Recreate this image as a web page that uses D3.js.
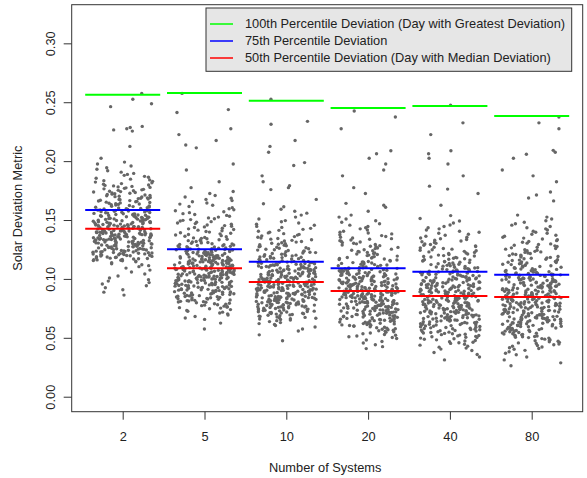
<!DOCTYPE html>
<html>
<head>
<meta charset="utf-8">
<script src="https://cdn.jsdelivr.net/npm/d3@7"></script>
<style>
  body { margin: 0; background: #fff; }
  svg text { font-family: "Liberation Sans", Arial, sans-serif; }
</style>
</head>
<body>
<div id="chart"></div>
<script>
// groups (number of systems)
var categories = ["2", "5", "10", "20", "40", "80"];

// daily deviation values, read off the picture as counts per 0.005 bin
// bin k covers [0.025 + k*0.005, 0.030 + k*0.005)
var binStart = 0.025;
var binWidth = 0.005;
var counts2  = [0,0,0,0,0,0,0,0,0,0,0,0,2,3,4,3,3,6,20,26,28,30,32,30,28,24,20,16,15,14,12,8,6,4,3,1,0,1,0,0,5,0,0,0,2,1,1];
var counts5  = [0,0,0,0,0,0,1,1,4,7,12,18,22,28,30,32,32,32,30,26,18,13,10,9,9,7,6,5,5,3,1,1,0,1,1,0,0,2,1,1,1,0,0,2,0,0,1];
var counts10 = [0,0,0,0,1,1,3,6,14,20,26,30,30,32,32,30,28,24,17,14,12,10,8,6,5,3,3,2,1,0,3,1,1,0,2,0,1,1,1,0,0,2,0,0,0,1,0];
var counts20 = [0,0,0,3,4,8,12,18,22,26,28,30,30,30,28,26,22,15,12,11,10,9,7,5,4,3,1,3,0,1,1,0,1,1,1,1,2,0,0,0,1,0,1,1,0,0,0];
var counts40 = [0,2,3,6,10,14,18,21,24,26,27,28,28,26,24,22,18,15,13,11,9,8,6,5,3,2,0,1,0,1,2,0,1,0,1,1,2,0,0,1,0,1,0,0,1,0,0];
var counts80 = [2,2,4,8,11,15,19,22,24,25,26,27,27,26,24,21,17,15,13,11,9,7,6,5,4,3,0,0,2,2,0,1,1,1,0,1,3,0,0,0,1,1,1,0,0,0,0];
var countsByGroup = [counts2, counts5, counts10, counts20, counts40, counts80];

// percentile deviation per group
var p100 = [0.2564, 0.2578, 0.2513, 0.2451, 0.2468, 0.2383];
var p75  = [0.1585, 0.1251, 0.1146, 0.1090, 0.1061, 0.1036];
var p50  = [0.1426, 0.1090, 0.0974, 0.0897, 0.0855, 0.0846];

var yTicks = [0, 0.05, 0.10, 0.15, 0.20, 0.25, 0.30];

var legendLabels = [
  "100th Percentile Deviation (Day with Greatest Deviation)",
  "75th Percentile Deviation",
  "50th Percentile Deviation (Day with Median Deviation)"
];
var legendColors = ["#00ff00", "#0000ff", "#ff0000"];

var width = 587, height = 478;
var box = { left: 71.7, right: 582.7, top: 4.7, bottom: 411.7 };
var fontSize = 12.8;

var svg = d3.select("#chart").append("svg")
  .attr("width", width).attr("height", height);

var x = d3.scalePoint().domain(categories).range([122.7, 531.7]);
var y = d3.scaleLinear().domain([-0.01273, 0.3328]).range([box.bottom, box.top]);

// deterministic jitter, like R's jitter() for the x position
function hash(a, b, c) {
  var s = Math.sin(a * 12.9898 + b * 78.233 + c * 37.719) * 43758.5453;
  return s - Math.floor(s);
}

var points = [];
countsByGroup.forEach(function (counts, g) {
  counts.forEach(function (n, k) {
    for (var i = 0; i < n; i++) {
      points.push({
        group: categories[g],
        value: binStart + k * binWidth + binWidth * (i + 0.5) / n,
        jit: hash(g + 1, k + 1, i + 1) - 0.5
      });
    }
  });
});

svg.append("g")
  .selectAll("circle")
  .data(points)
  .enter()
  .append("circle")
  .attr("cx", function (d) { return x(d.group) + d.jit * 60; })
  .attr("cy", function (d) { return y(d.value); })
  .attr("r", 1.7)
  .attr("fill", "#666666");

// percentile segments
var segs = [];
categories.forEach(function (c, i) {
  segs.push({ c: c, v: p100[i], color: legendColors[0] });
  segs.push({ c: c, v: p75[i], color: legendColors[1] });
  segs.push({ c: c, v: p50[i], color: legendColors[2] });
});
svg.append("g")
  .selectAll("line")
  .data(segs)
  .enter()
  .append("line")
  .attr("x1", function (d) { return x(d.c) - 37.5; })
  .attr("x2", function (d) { return x(d.c) + 37.5; })
  .attr("y1", function (d) { return y(d.v); })
  .attr("y2", function (d) { return y(d.v); })
  .attr("stroke", function (d) { return d.color; })
  .attr("stroke-width", 2);

// axes
var yAxis = svg.append("g")
  .attr("transform", "translate(" + box.left + ",0)")
  .call(d3.axisLeft(y).tickValues(yTicks).tickFormat(d3.format(".2f")).tickSize(8));
yAxis.select(".domain").remove();
yAxis.selectAll("line").attr("stroke", "#333");
yAxis.selectAll("text")
  .attr("transform", "rotate(-90)")
  .attr("x", 0)
  .attr("y", -17)
  .attr("dy", 0)
  .attr("text-anchor", "middle")
  .attr("font-size", fontSize)
  .attr("fill", "#222");

var xAxis = svg.append("g")
  .attr("transform", "translate(0," + box.bottom + ")")
  .call(d3.axisBottom(x).tickSize(8).tickPadding(12));
xAxis.select(".domain").remove();
xAxis.selectAll("line").attr("stroke", "#333");
xAxis.selectAll("text").attr("font-size", fontSize).attr("fill", "#222");

svg.append("rect")
  .attr("x", box.left).attr("y", box.top)
  .attr("width", box.right - box.left).attr("height", box.bottom - box.top)
  .attr("fill", "none").attr("stroke", "#333").attr("stroke-width", 1);

svg.append("text")
  .attr("x", (box.left + box.right) / 2 - 2).attr("y", 472)
  .attr("text-anchor", "middle").attr("font-size", fontSize).attr("fill", "#222")
  .text("Number of Systems");

svg.append("text")
  .attr("transform", "translate(22," + (box.top + box.bottom) / 2 + ") rotate(-90)")
  .attr("text-anchor", "middle").attr("font-size", fontSize).attr("fill", "#222")
  .text("Solar Deviation Metric");

// legend
var legend = svg.append("g");
legend.append("rect")
  .attr("x", 206).attr("y", 8).attr("width", 365.7).attr("height", 63.3)
  .attr("fill", "#e6e6e6").attr("stroke", "#333").attr("stroke-width", 1);
var rows = legend.selectAll("g.row")
  .data(legendLabels)
  .enter()
  .append("g")
  .attr("class", "row")
  .attr("transform", function (d, i) { return "translate(0," + (24 + i * 17) + ")"; });
rows.append("line")
  .attr("x1", 210).attr("x2", 233)
  .attr("stroke", function (d, i) { return legendColors[i]; })
  .attr("stroke-width", 1.5);
rows.append("text")
  .attr("x", 245).attr("dy", "0.35em")
  .attr("font-size", fontSize).attr("fill", "#222")
  .text(function (d) { return d; });
</script>
</body>
</html>
